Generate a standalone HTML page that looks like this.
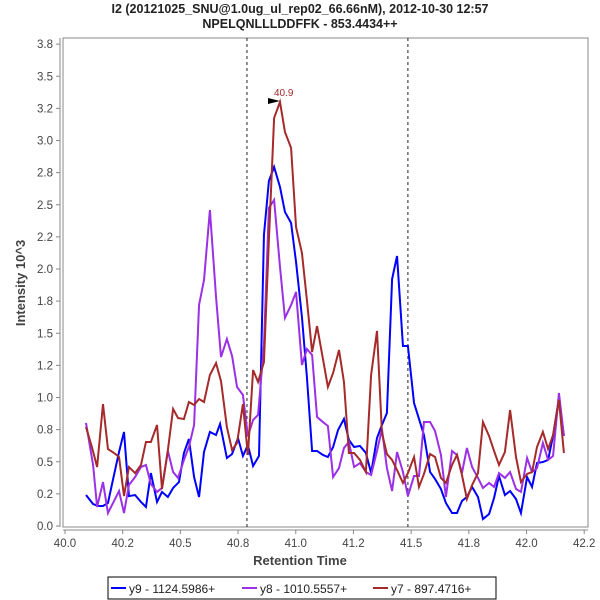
<!DOCTYPE html>
<html><head><meta charset="utf-8"><style>
body{margin:0;background:#fff;}
svg{display:block;font-family:"Liberation Sans","DejaVu Sans",sans-serif;}
</style></head><body>
<svg id="chart" width="600" height="600">
<text x="300" y="13" text-anchor="middle" font-size="12.5" font-weight="bold" fill="#222">I2 (20121025_SNU@1.0ug_ul_rep02_66.66nM), 2012-10-30 12:57</text>
<text x="300" y="28" text-anchor="middle" font-size="12.5" font-weight="bold" fill="#222">NPELQNLLLDDFFK - 853.4434++</text>
<rect x="63" y="38" width="525" height="489" fill="#fff" stroke="#888" stroke-width="1"/>
<g id="yaxis"></g>
<g id="xaxis"></g>
<g id="marks"></g>
<text x="300" y="565" text-anchor="middle" font-size="13" font-weight="bold" fill="#444">Retention Time</text>
<text transform="translate(25,283) rotate(-90)" text-anchor="middle" font-size="13" font-weight="bold" fill="#444">Intensity 10^3</text>
<g>
<rect x="108" y="577" width="388" height="22" fill="#fff" stroke="#000" stroke-width="1"/>
<line x1="111" y1="588" x2="126" y2="588" stroke="#0000ff" stroke-width="2"/>
<text x="129" y="593" font-size="12" fill="#222">y9 - 1124.5986+</text>
<line x1="242" y1="588" x2="257" y2="588" stroke="#9b30e6" stroke-width="2"/>
<text x="260" y="593" font-size="12" fill="#222">y8 - 1010.5557+</text>
<line x1="373" y1="588" x2="388" y2="588" stroke="#a52a2a" stroke-width="2"/>
<text x="391" y="593" font-size="12" fill="#222">y7 - 897.4716+</text>
</g>
</svg>
<script>
const yTicks=[0,0.25,0.5,0.75,1,1.25,1.5,1.75,2,2.25,2.5,2.75,3,3.25,3.5,3.75];
const yTickLabels=["0.0","0.2","0.5","0.8","1.0","1.2","1.5","1.8","2.0","2.2","2.5","2.8","3.0","3.2","3.5","3.8"];
const xTickPos=[40.0,40.2444,40.4889,40.7333,40.9778,41.2222,41.4667,41.7111,41.9556,42.2];
const xTickTxt=["40.0","40.2","40.5","40.8","41.0","41.2","41.5","41.8","42.0","42.2"];
const markers=[40.771,41.453];
const peakTime=40.911, peakValue=3.300, peakLabel="40.9";
const y9T=[40.089,40.119,40.140,40.161,40.182,40.203,40.229,40.250,40.271,40.297,40.322,40.343,40.364,40.390,40.411,40.436,40.458,40.483,40.504,40.525,40.547,40.568,40.589,40.614,40.640,40.657,40.686,40.708,40.733,40.754,40.775,40.797,40.822,40.843,40.864,40.886,40.911,40.932,40.958,40.979,41.004,41.025,41.047,41.068,41.093,41.114,41.136,41.157,41.182,41.203,41.225,41.250,41.275,41.297,41.322,41.343,41.364,41.386,41.407,41.432,41.453,41.479,41.500,41.521,41.547,41.568,41.593,41.614,41.640,41.661,41.682,41.703,41.725,41.750,41.771,41.797,41.818,41.839,41.864,41.886,41.911,41.932,41.958,41.979,42.000,42.025,42.047,42.068,42.093,42.114];
const y9V=[0.241,0.171,0.156,0.156,0.179,0.358,0.576,0.732,0.233,0.241,0.187,0.148,0.412,0.187,0.265,0.226,0.296,0.342,0.568,0.677,0.381,0.226,0.576,0.732,0.708,0.794,0.529,0.560,0.685,0.545,0.630,0.467,0.545,2.265,2.685,2.794,2.638,2.444,2.358,2.054,1.626,1.160,0.584,0.584,0.553,0.537,0.615,0.747,0.833,0.669,0.615,0.623,0.568,0.412,0.685,0.786,0.879,1.922,2.101,1.401,1.401,0.957,0.833,0.708,0.420,0.366,0.288,0.179,0.101,0.101,0.195,0.226,0.304,0.226,0.054,0.093,0.218,0.389,0.241,0.272,0.210,0.101,0.381,0.304,0.490,0.498,0.514,0.700,0.996,0.700];
const y8T=[40.089,40.119,40.136,40.161,40.182,40.208,40.229,40.250,40.271,40.297,40.322,40.343,40.364,40.390,40.411,40.436,40.458,40.479,40.504,40.525,40.547,40.568,40.589,40.614,40.640,40.661,40.686,40.708,40.729,40.754,40.775,40.797,40.818,40.843,40.864,40.886,40.911,40.932,40.958,40.979,41.004,41.025,41.047,41.068,41.093,41.114,41.136,41.161,41.182,41.203,41.225,41.250,41.275,41.297,41.322,41.343,41.364,41.386,41.407,41.432,41.453,41.479,41.500,41.521,41.547,41.568,41.593,41.614,41.640,41.661,41.682,41.703,41.725,41.750,41.771,41.797,41.818,41.839,41.864,41.886,41.911,41.932,41.958,41.979,42.000,42.025,42.047,42.068,42.093,42.114];
const y8V=[0.802,0.475,0.148,0.342,0.101,0.195,0.272,0.101,0.319,0.381,0.459,0.475,0.327,0.265,0.296,0.584,0.420,0.374,0.514,0.615,0.786,1.720,1.914,2.459,1.782,1.315,1.455,1.323,1.082,1.019,0.700,0.825,0.864,1.409,2.475,2.537,2.016,1.619,1.720,1.821,1.253,1.377,1.331,0.848,0.809,0.778,0.381,0.451,0.607,0.654,0.459,0.490,0.420,0.397,0.584,0.755,0.451,0.272,0.576,0.420,0.233,0.389,0.389,0.809,0.809,0.739,0.553,0.226,0.584,0.553,0.412,0.607,0.459,0.374,0.296,0.335,0.304,0.412,0.374,0.420,0.288,0.265,0.529,0.420,0.451,0.646,0.514,0.545,1.035,0.700];
const y7T=[40.089,40.114,40.136,40.161,40.182,40.208,40.229,40.250,40.271,40.297,40.322,40.343,40.364,40.390,40.411,40.436,40.458,40.479,40.504,40.525,40.547,40.568,40.589,40.614,40.640,40.661,40.686,40.708,40.729,40.754,40.775,40.797,40.818,40.843,40.864,40.886,40.911,40.932,40.958,40.979,41.004,41.025,41.047,41.068,41.093,41.114,41.136,41.161,41.182,41.203,41.225,41.250,41.275,41.297,41.322,41.343,41.364,41.386,41.411,41.432,41.453,41.479,41.500,41.521,41.547,41.568,41.593,41.614,41.640,41.661,41.682,41.703,41.725,41.750,41.771,41.797,41.818,41.839,41.864,41.886,41.911,41.932,41.958,41.979,42.000,42.025,42.047,42.068,42.093,42.114];
const y7V=[0.770,0.615,0.459,0.949,0.599,0.568,0.537,0.233,0.459,0.412,0.475,0.654,0.654,0.786,0.288,0.591,0.911,0.840,0.833,0.965,0.942,0.988,0.965,1.175,1.268,1.128,0.770,0.591,0.646,0.949,0.553,1.214,1.121,1.276,2.226,3.175,3.300,3.066,2.942,2.327,2.124,1.759,1.354,1.556,1.300,1.082,1.191,1.370,1.121,0.568,0.568,0.514,0.420,1.175,1.518,0.724,0.560,0.514,0.420,0.335,0.412,0.537,0.304,0.405,0.560,0.537,0.374,0.335,0.475,0.553,0.397,0.210,0.319,0.412,0.809,0.700,0.584,0.475,0.576,0.903,0.537,0.342,0.405,0.420,0.615,0.732,0.599,0.708,0.981,0.568];

const NS="http://www.w3.org/2000/svg";
const X=t=>65+(t-40)*236;
const Y=v=>526-v*128.5;
function mk(tag,attrs,parent){const e=document.createElementNS(NS,tag);for(const k in attrs)e.setAttribute(k,attrs[k]);parent.appendChild(e);return e;}
const ya=document.getElementById('yaxis'), xa=document.getElementById('xaxis'), mg=document.getElementById('marks');
mk('line',{x1:60,y1:38,x2:60,y2:527,stroke:'#888'},ya);
yTicks.forEach((v,i)=>{
  const l=mk('line',{x1:56,y1:Y(v),x2:60,y2:Y(v),stroke:'#888'},ya);
  
  
  const t=mk('text',{x:53,y:Y(v)+4,'text-anchor':'end','font-size':'11.5',fill:'#444'},ya);
  
  
  t.textContent=yTickLabels[i];
});
mk('line',{x1:63,y1:530,x2:588,y2:530,stroke:'#888'},xa);
xTickPos.forEach((v,i)=>{
  const px=X(v);
  const l=mk('line',{x1:px,y1:530,x2:px,y2:534,stroke:'#888'},xa);
  
  
  const t=mk('text',{x:px,y:547,'text-anchor':'middle','font-size':'11.5',fill:'#444'},xa);
  
  
  t.textContent=xTickTxt[i];
});
markers.forEach(m=>{
  const l=mk('line',{x1:X(m),y1:38,x2:X(m),y2:527,stroke:'#222','stroke-dasharray':'3,3'},mg);
  
  
});
function series(T,V,color,name){
  const p=mk('polyline',{points:T.map((t,i)=>X(t)+','+Y(V[i])).join(' '),fill:'none',stroke:color,'stroke-width':2,'stroke-linejoin':'miter'},mg);
  
  
}
series(y9T,y9V,'#0000ff','series-y9');
series(y8T,y8V,'#9b30e6','series-y8');
series(y7T,y7V,'#a52a2a','series-y7');
const px=X(peakTime), py=Y(peakValue);
const ar=mk('polygon',{points:(px-12)+','+(py-4)+' '+(px)+','+(py-1)+' '+(px-12)+','+(py+2),fill:'#000'},mg);


const pl=mk('text',{x:px-6,y:py-6,'font-size':'10',fill:'#a52a2a'},mg);


pl.textContent=peakLabel;
</script>
</body></html>
